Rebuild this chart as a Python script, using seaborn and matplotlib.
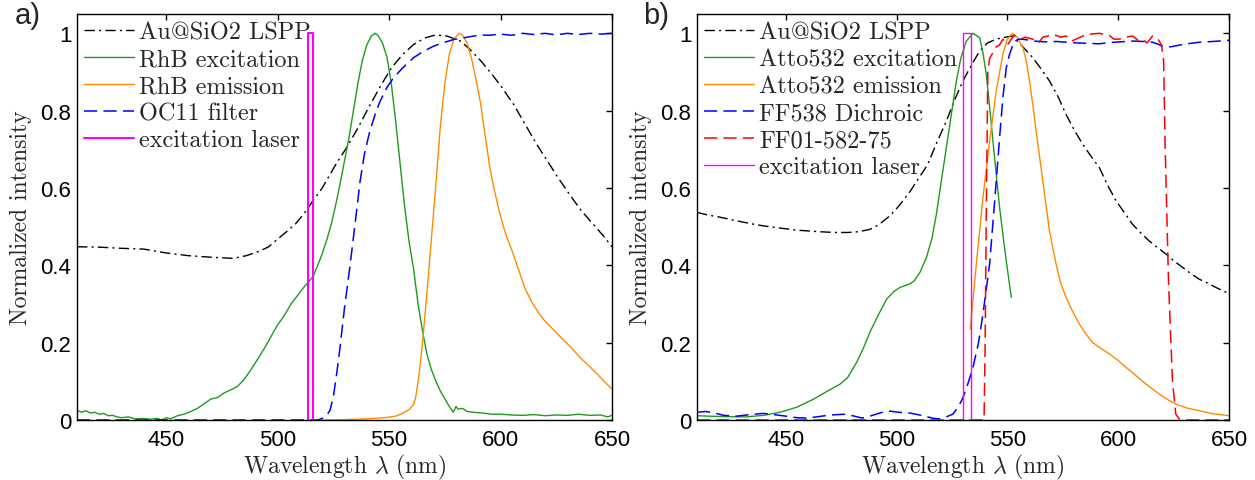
import matplotlib
matplotlib.use("Agg")
import matplotlib.pyplot as plt
import seaborn as sns
import numpy as np

# ---------------- data: panel a ----------------
a_lspp_wl = [410, 420, 430, 440, 450, 460, 470, 480, 486, 492, 496, 500, 504, 508, 512, 516, 520, 526, 531, 536,
             541, 546, 551, 556, 561, 566, 571, 576, 582, 586, 591, 596, 600, 606, 611, 616, 621, 626, 631, 636,
             641, 646, 650]
a_lspp_v = [.448, .447, .444, .442, .432, .425, .421, .418, .425, .437, .448, .468, .487, .507, .535, .568, .60, .66,
            .705, .755, .81, .862, .91, .945, .971, .988, .996, .993, .98, .96, .93, .895, .865, .815, .765, .715,
            .67, .625, .583, .543, .51, .477, .448]

a_exc_wl = [410, 412, 414, 416, 418, 420, 422, 424, 426, 428, 430, 433, 436, 440, 443, 446, 448, 450, 452, 455, 458,
            461, 464, 467, 470, 473, 476, 479, 482, 485, 488, 490, 492, 494, 496, 498, 500, 502, 504, 506, 508, 510,
            512, 514, 516, 518, 520, 522, 524, 526, 528, 530, 532, 534, 536, 538, 540, 542, 543.7, 545, 547, 549,
            551, 553, 555, 557, 559, 561, 563, 565, 567, 569, 571, 573, 575, 577, 578.8, 580, 581, 583, 585, 588,
            592, 596, 600, 605, 610, 615, 620, 625, 630, 635, 640, 645, 648, 650]
a_exc_v = [.025, .02, .024, .018, .02, .015, .017, .011, .012, .008, .006, .008, .003, .004, .002, .004, .0, .006,
           .003, .011, .015, .022, .03, .042, .054, .058, .07, .078, .087, .105, .13, .148, .166, .185, .205, .226,
           .246, .262, .28, .30, .315, .33, .345, .358, .372, .40, .43, .465, .505, .555, .61, .67, .73, .80, .87,
           .93, .97, .993, 1.0, .995, .975, .94, .87, .77, .66, .55, .46, .39, .30, .23, .17, .13, .10, .075, .055,
           .035, .02, .035, .028, .03, .022, .02, .018, .015, .015, .013, .012, .014, .011, .013, .012, .015, .012,
           .013, .008, .012]

a_em_wl = [520, 530, 540, 548, 553, 556, 559, 561, 562, 563.5, 565, 567, 569, 571, 573, 575, 577, 579, 581.5, 583,
           585, 587, 589, 591, 593, 595, 597, 599, 601, 603, 605, 608, 611, 614, 617, 620, 624, 628, 632, 636, 640,
           644, 647, 650]
a_em_v = [0, .001, .003, .006, .01, .017, .027, .04, .06, .12, .2, .33, .47, .61, .76, .87, .945, .985, 1.0, .995,
          .975, .935, .88, .82, .74, .66, .60, .55, .505, .47, .44, .39, .34, .305, .278, .255, .232, .208, .185,
          .16, .138, .115, .097, .08]

a_filt_wl = [410, 518, 520, 522, 523.5, 525, 526.5, 528, 530, 532.5, 535, 537, 539, 541.4, 544, 546, 549, 552, 556,
             561, 565, 570, 575, 579, 585, 591, 595, 600, 605, 610, 615, 620, 625, 630, 635, 640, 645, 650]
a_filt_v = [0, 0, .004, .012, .025, .06, .12, .188, .29, .40, .52, .618, .69, .748, .795, .825, .86, .885, .91,
            .937, .952, .967, .977, .984, .99, .996, .995, .998, .995, 1.0, .997, 1.0, .996, 1.0, .997, 1.0, .998,
            1.0]

a_laser_wl = [513.8, 513.8, 515.7, 515.7]
a_laser_v = [0, 1, 1, 0]

# ---------------- data: panel b ----------------
b_lspp_wl = [410, 415, 420, 428, 435, 440, 448, 455, 465, 472, 478, 483, 488, 492, 497, 501, 506, 510, 514, 518,
             522.5, 526, 530, 534, 537.5, 541, 545, 549, 552.5, 557, 561.5, 565, 569, 573, 576.5, 580, 584, 588,
             591.5, 595, 599, 603, 606.5, 610, 614, 618, 621.6, 625, 629, 632.5, 636.6, 640, 644, 647, 650]
b_lspp_v = [.537, .53, .525, .515, .507, .502, .496, .491, .487, .485, .485, .487, .493, .505, .528, .553, .59,
            .625, .66, .715, .773, .825, .877, .92, .954, .975, .985, .99, .993, .965, .937, .91, .877, .835, .79,
            .752, .713, .68, .653, .61, .567, .535, .506, .485, .463, .445, .429, .412, .395, .38, .364, .355, .343,
            .335, .327]

b_exc_wl = [410, 420, 432, 440, 447.5, 455, 462.6, 468, 474.6, 478, 482, 485, 488, 492, 495.6, 499, 501.6, 504,
            506, 508, 510.6, 513.5, 516, 518, 520, 522.5, 525, 527, 529, 531.5, 534.5, 537.5, 539, 540.5, 542,
            543.5, 545, 546.5, 548, 549.5, 551.8]
b_exc_v = [.011, .009, .008, .012, .02, .033, .054, .072, .093, .11, .149, .185, .227, .274, .313, .333, .343,
           .348, .352, .36, .382, .42, .47, .532, .61, .705, .80, .877, .935, .98, 1.0, .989, .95, .894, .81, .722,
           .635, .55, .48, .412, .317]

b_em_wl = [533.3, 536, 539, 542, 545, 548, 550, 552.2, 554.5, 557, 558.5, 560, 561.5, 563, 566, 569, 572, 574,
           576.5, 579.5, 582.5, 585.5, 588.5, 592, 596, 600, 603.6, 607, 611, 615, 618.6, 622, 626, 631, 636.6,
           643, 650]
b_em_v = [.235, .403, .575, .722, .851, .946, .985, 1.0, .99, .963, .93, .877, .815, .748, .618, .489, .403, .355,
          .317, .28, .248, .222, .20, .186, .171, .154, .136, .12, .10, .082, .067, .054, .041, .031, .024, .016,
          .011]

b_dich_wl = [410, 414, 418, 422, 428, 434, 440, 446, 450, 455, 459, 464, 470, 477, 481, 484.5, 488, 493.6, 497,
             501, 506, 510.4, 514, 517, 519.4, 522, 525.4, 528, 530, 532, 534.5, 537, 539, 541, 542, 543.5, 545,
             546.5, 548, 549.5, 551, 553, 555, 558, 562, 567, 572, 577, 582, 587, 591.5, 596, 601, 606.5, 611,
             615.5, 618, 620, 622, 624.5, 630, 636.6, 643, 650]
b_dich_v = [.02, .022, .018, .012, .01, .014, .017, .013, .01, .006, .005, .008, .013, .015, .01, .005, .01, .02,
            .023, .02, .018, .013, .008, .004, .003, .007, .015, .035, .058, .09, .136, .20, .274, .36, .403, .51,
            .618, .73, .834, .91, .946, .978, .985, .984, .98, .978, .979, .977, .975, .974, .973, .976, .978, .98,
            .979, .977, .972, .967, .964, .966, .972, .977, .979, .982]

b_em_filt_wl = [410, 538, 539.5, 540, 540.5, 541.2, 542, 543.5, 545, 546.5, 548, 550, 553, 556, 558, 561.5, 564,
                566, 571, 574, 576.5, 579, 581, 585.5, 591.5, 596, 598, 600.5, 603, 606.5, 609, 611, 613, 615.5,
                618, 619.5, 620.5, 621.2, 622.7, 624.5, 626, 627.5, 629, 650]
b_em_filt_v = [0, 0, 0, .2, .53, .903, .935, .95, .965, .97, .985, .97, .995, .985, .99, .985, .975, .99, .997,
               .99, .993, .98, .985, .997, 1.0, .995, .985, .985, .99, .993, .982, .985, .975, .993, .985, .97, .93,
               .705, .36, .10, .015, .003, 0, 0]

b_laser_wl = [530, 530, 533.8, 533.8]
b_laser_v = [0, 1, 1, 0]

labels_a = ["Au@SiO2 LSPP", "RhB excitation", "RhB emission", "OC11 filter", "excitation laser"]
labels_b = ["Au@SiO2 LSPP", "Atto532 excitation", "Atto532 emission", "FF538 Dichroic", "FF01-582-75",
            "excitation laser"]
xticks = [450, 500, 550, 600, 650]
yticks = [0, 0.2, 0.4, 0.6, 0.8, 1.0]
yticklabels = ["0", "0.2", "0.4", "0.6", "0.8", "1"]

# ---------------- style ----------------
sns.set_theme(style="white")
plt.rcParams.update({
    "font.family": ["Liberation Sans", "DejaVu Sans"],
    "mathtext.fontset": "cm",
    "lines.scale_dashes": False,
    "axes.linewidth": 1.0,
    "axes.edgecolor": "black",
})
SERIF = ["cmr10", "DejaVu Serif"]

GREEN = "#1f9a1f"
ORANGE = "#ff8a00"
BLUE = "#0000ff"
RED = "#ff0000"
MAG = "#ff00ff"
DASH = (0, (9.5, 4.5))
DASHDOT = (0, (7.5, 3, 1.5, 3))

W, H = 1255, 481
fig = plt.figure(figsize=(W / 100, H / 100), dpi=100)
axa = fig.add_axes([77 / W, 1 - 421 / H, 535 / W, 406 / H])
axb = fig.add_axes([697 / W, 1 - 421 / H, 532 / W, 406 / H])


def draw(ax, x, y, color, lw, ls, label):
    sns.lineplot(x=x, y=y, ax=ax, color=color, linewidth=lw, estimator=None, sort=False, label=label,
                 legend=False)
    ln = ax.lines[-1]
    ln.set_linestyle(ls)
    ln.set_color(color)
    ln.set_linewidth(lw)
    ln.set_label(label)
    return ln


ha = [
    draw(axa, a_lspp_wl, a_lspp_v, "black", 1.0, DASHDOT, labels_a[0]),
    draw(axa, a_exc_wl, a_exc_v, GREEN, 1.0, "-", labels_a[1]),
    draw(axa, a_em_wl, a_em_v, ORANGE, 1.0, "-", labels_a[2]),
    draw(axa, a_filt_wl, a_filt_v, BLUE, 1.1, DASH, labels_a[3]),
    draw(axa, a_laser_wl, a_laser_v, MAG, 1.5, "-", labels_a[4]),
]
hb = [
    draw(axb, b_lspp_wl, b_lspp_v, "black", 1.0, DASHDOT, labels_b[0]),
    draw(axb, b_exc_wl, b_exc_v, GREEN, 1.0, "-", labels_b[1]),
    draw(axb, b_em_wl, b_em_v, ORANGE, 1.0, "-", labels_b[2]),
    draw(axb, b_dich_wl, b_dich_v, BLUE, 1.1, DASH, labels_b[3]),
    draw(axb, b_em_filt_wl, b_em_filt_v, RED, 1.1, DASH, labels_b[4]),
    draw(axb, b_laser_wl, b_laser_v, MAG, 1.0, "-", labels_b[5]),
]

for ax, handles in ((axa, ha), (axb, hb)):
    ax.set_xlim(410, 650)
    ax.set_ylim(0, 1.05)
    ax.set_xticks(xticks)
    ax.set_xticklabels([str(t) for t in xticks])
    ax.set_yticks(yticks)
    ax.set_yticklabels(yticklabels)
    ax.tick_params(direction="in", length=4, width=1, top=True, right=True, labelsize=16, colors="black")
    ax.tick_params(axis="x", pad=6.5)
    ax.tick_params(axis="y", pad=4)
    for s in ax.spines.values():
        s.set_visible(True)
        s.set_color("black")
        s.set_linewidth(1.0)
    ax.set_xlabel(r"Wavelength $\lambda$ (nm)", family=SERIF, fontsize=17, labelpad=1.5)
    ax.set_ylabel("Normalized intensity", family=SERIF, fontsize=17, labelpad=6)
    ax.grid(False)
    ax.legend(handles=handles, loc="upper left", bbox_to_anchor=(0.0, 1.0), frameon=False,
              prop={"family": SERIF, "size": 17.5}, handlelength=2.05, handletextpad=0.22,
              labelspacing=0.2, borderaxespad=0.1, borderpad=0.2)

fig.text(15 / W, 1 - 2 / H, "a)", fontsize=21, ha="left", va="top")
fig.text(643 / W, 1 - 2 / H, "b)", fontsize=21, ha="left", va="top")

fig.savefig("out.png", dpi=100)
